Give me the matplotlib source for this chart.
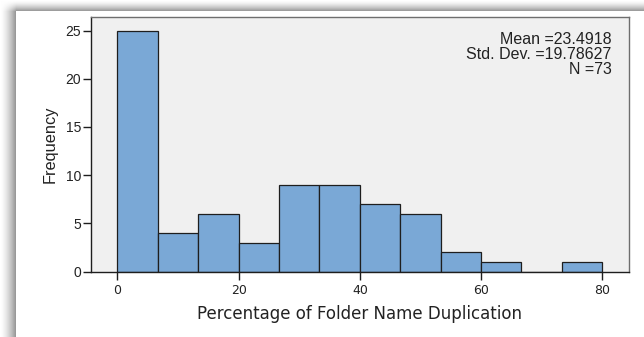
import numpy as np
import matplotlib
matplotlib.use("Agg")
import matplotlib.pyplot as plt

# Histogram data: bin edges (percent) and counts per bin
bin_edges = np.linspace(0, 80, 13)
counts = [25, 4, 6, 3, 9, 9, 7, 6, 2, 1, 0, 1]
stats_lines = ["Mean =23.4918", "Std. Dev. =19.78627", "N =73"]
x_ticks = [0, 20, 40, 60, 80]
y_ticks = [0, 5, 10, 15, 20, 25]

W, H, DPI = 644, 337, 100
fig = plt.figure(figsize=(W / DPI, H / DPI), dpi=DPI)

# Panel with a soft drop shadow along the top and left edges
px = np.arange(W)[None, :].astype(float)
py = np.arange(H)[:, None].astype(float)
panel_x, panel_y = 16, 11
dx = np.clip(px / panel_x, 0, 1)
dy = np.clip(py / panel_y, 0, 1)
dark = np.zeros((H, W))
left = (px < panel_x) & (py >= panel_y)
top = (py < panel_y) & (px >= panel_x)
corner = (px < panel_x) & (py < panel_y)
dark = np.where(left, dx ** 1.5, dark)
dark = np.where(top, dy ** 1.5, dark)
dark = np.where(corner, (dx * dy) ** 1.5, dark)
gray = 1 - 0.44 * dark
img = np.dstack([gray, gray, gray])
fig.figimage(img, xo=0, yo=0, origin="upper", zorder=0)

ax_l, ax_r, ax_t, ax_b = 90.7, 629.0, 17.0, 271.7
ax_w, ax_h = ax_r - ax_l, ax_b - ax_t
ax = fig.add_axes([ax_l / W, 1 - ax_b / H, ax_w / W, ax_h / H])
ax.set_zorder(1)
ax.set_facecolor("#F0F0F0")

ax.bar(bin_edges[:-1], counts, width=np.diff(bin_edges), align="edge",
       color="#7AA8D6", edgecolor="#1E1E1E", linewidth=0.9, zorder=2)

ax.set_xlim(-4.39, 84.4)
ax.set_ylim(0, 26.4)
ax.set_xticks(x_ticks)
ax.set_yticks(y_ticks)

for side in ("left", "bottom"):
    ax.spines[side].set_color("#1E1E1E")
    ax.spines[side].set_linewidth(1.0)
for side in ("top", "right"):
    ax.spines[side].set_color("#6E6E6E")
    ax.spines[side].set_linewidth(1.0)

ax.tick_params(axis="both", direction="out", length=5.5, width=1.0,
               color="#1E1E1E", labelcolor="#222222")
ax.tick_params(axis="x", pad=3)
ax.tick_params(axis="y", pad=1.5)
for lab in ax.get_yticklabels():
    lab.set_fontfamily("Liberation Sans")
    lab.set_fontsize(10)
for lab in ax.get_xticklabels():
    lab.set_fontfamily("DejaVu Sans")
    lab.set_fontsize(9)

ax.set_xlabel("Percentage of Folder Name Duplication", family="DejaVu Sans",
              fontsize=12, color="#222222", va="baseline")
ax.xaxis.set_label_coords(0.5, (ax_b - 319.0) / ax_h)
ax.set_ylabel("Frequency", family="Liberation Sans", fontsize=11.8,
              color="#222222", va="center")
ax.yaxis.set_label_coords((50 - ax_l) / ax_w, 0.5)

# Summary statistics, right-aligned in the upper-right corner
stats_right = 611.7
baselines = [44.3, 59.1, 74.0]
for line, yb in zip(stats_lines, baselines):
    ax.text((stats_right - ax_l) / ax_w, (ax_b - yb) / ax_h, line,
            transform=ax.transAxes, ha="right", va="baseline",
            family="Liberation Sans", fontsize=11.5, color="#222222")

fig.savefig("out.png", dpi=DPI)
